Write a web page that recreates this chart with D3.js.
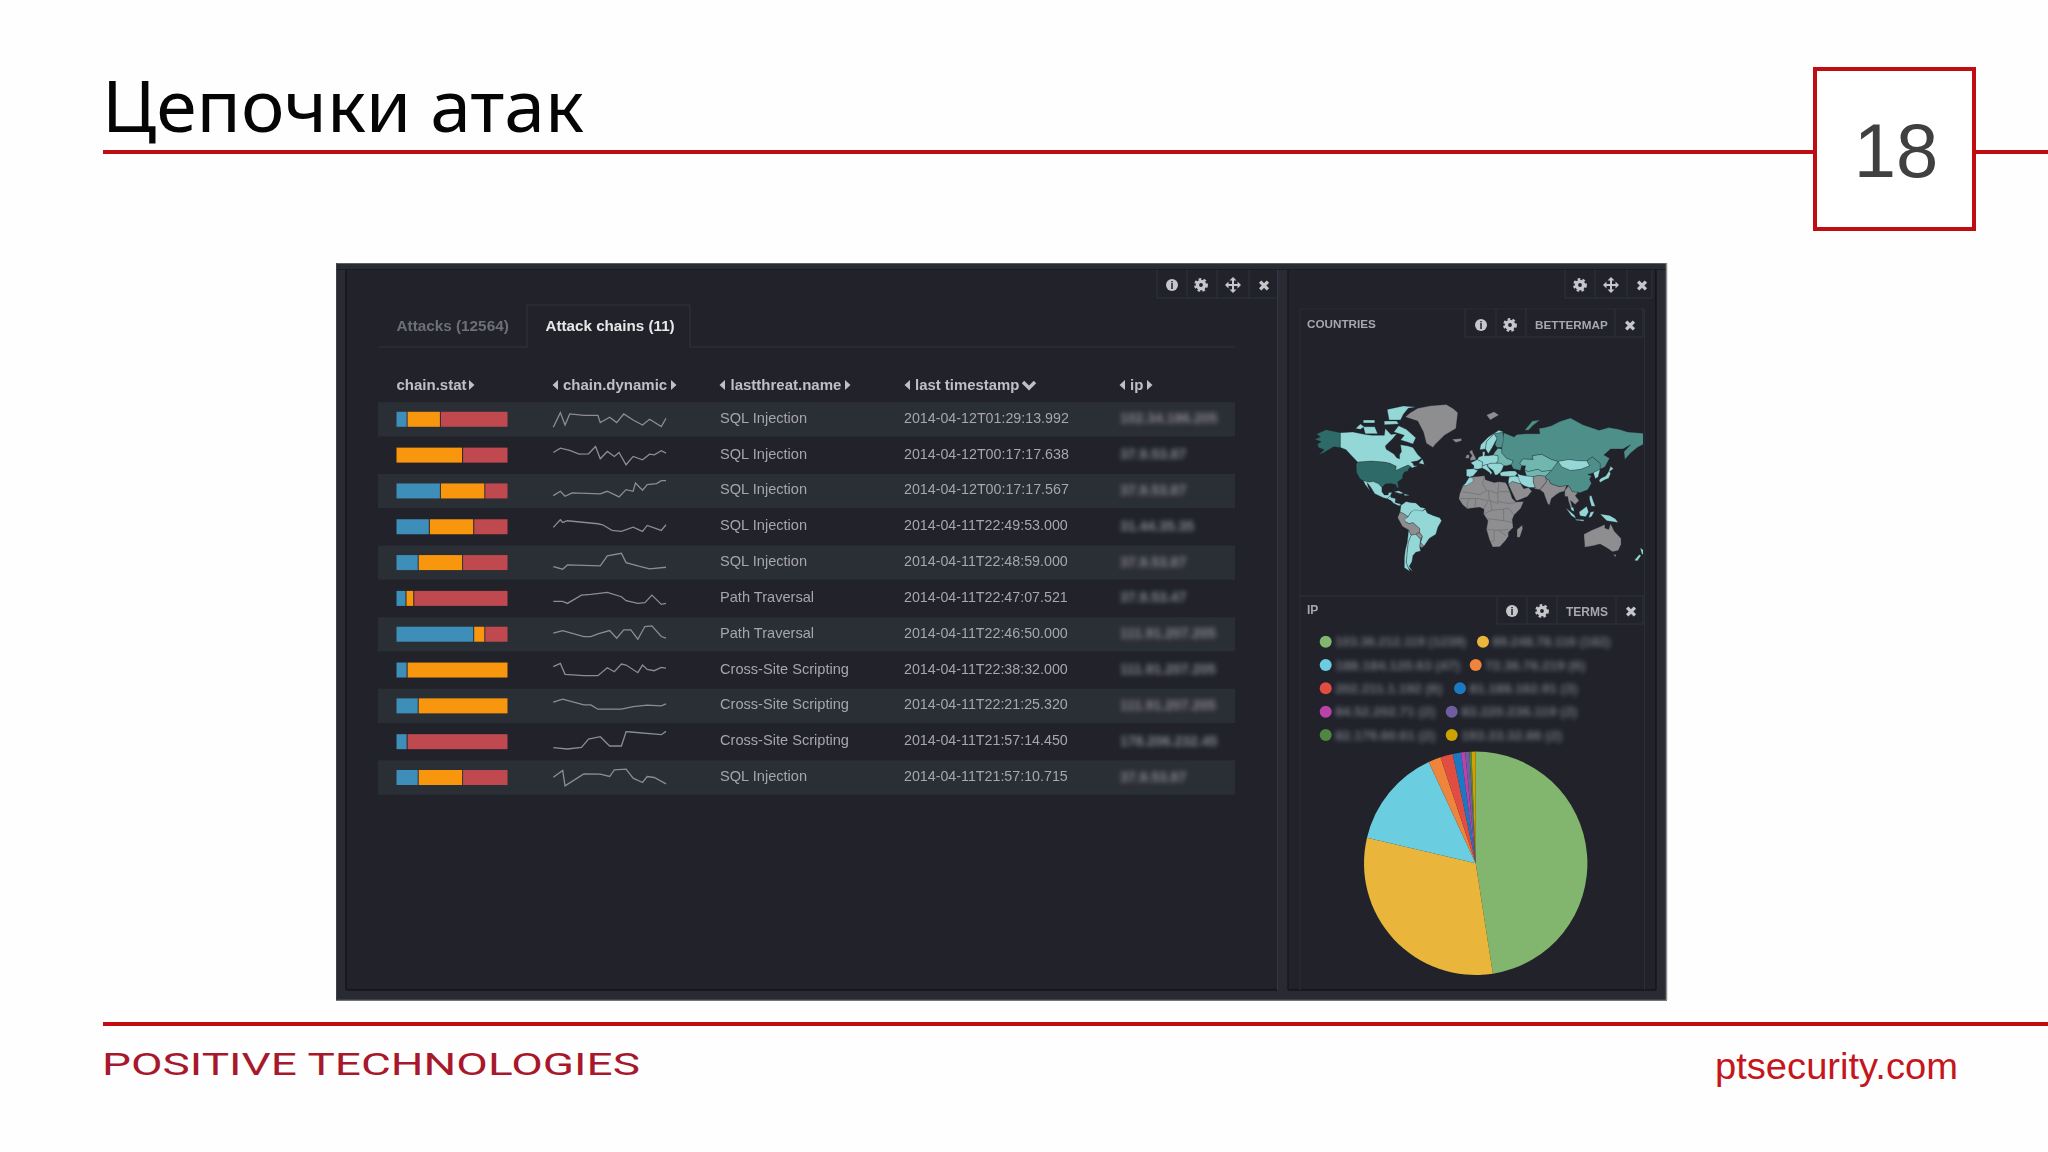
<!DOCTYPE html>
<html>
<head>
<meta charset="utf-8">
<script src="https://cdnjs.cloudflare.com/ajax/libs/d3/7.8.5/d3.min.js"></script>
<style>
  html, body { margin: 0; padding: 0; background: #fff; }
  svg { display: block; }
  text { font-family: "Liberation Sans", Arial, sans-serif; }
</style>
</head>
<body>
<svg id="chart" width="2048" height="1152"></svg>
<script>
// Table data
const statBlue = [10, 0, 40, 30, 20, 9, 70, 10, 20, 10, 20];
const statOrange = [30, 60, 40, 40, 40, 7, 10, 90, 80, 0, 40];
const statRed = [60, 40, 20, 30, 40, 84, 20, 0, 0, 90, 40];
const threats = ["SQL Injection", "SQL Injection", "SQL Injection", "SQL Injection", "SQL Injection", "Path Traversal", "Path Traversal", "Cross-Site Scripting", "Cross-Site Scripting", "Cross-Site Scripting", "SQL Injection"];
const stamps = ["2014-04-12T01:29:13.992", "2014-04-12T00:17:17.638", "2014-04-12T00:17:17.567", "2014-04-11T22:49:53.000", "2014-04-11T22:48:59.000", "2014-04-11T22:47:07.521", "2014-04-11T22:46:50.000", "2014-04-11T22:38:32.000", "2014-04-11T22:21:25.320", "2014-04-11T21:57:14.450", "2014-04-11T21:57:10.715"];
// the addresses are blurred in the picture, these are only look-alikes
const rowIps = ["102.34.186.205", "37.9.53.87", "37.9.53.87", "31.44.35.35", "37.9.53.87", "37.9.53.47", "111.91.207.205", "111.91.207.205", "111.91.207.205", "178.206.232.45", "37.9.53.87"];

// Sparklines, [bucket, value]
const dyn0 = [[0,6],[3,50],[5,13],[7,46],[13,42],[19,42],[20,20],[24,36],[27,20],[30,46],[34,28],[38,13],[41,30],[46,8],[48,33]];
const dyn1 = [[0,38],[3,51],[7,44],[11,33],[15,34],[18,56],[20,19],[23,41],[26,26],[28,38],[31,1],[34,26],[38,16],[41,33],[43,31],[46,43],[48,36]];
const dyn2 = [[0,16],[3,29],[5,14],[8,24],[20,21],[23,29],[28,12],[31,34],[34,29],[35,54],[38,32],[40,49],[44,52],[46,61],[48,61]];
const dyn3 = [[0,28],[3,51],[4,43],[6,48],[19,39],[21,36],[25,19],[29,16],[34,29],[38,16],[40,34],[46,19],[48,36]];
const dyn4 = [[0,18],[4,10],[6,23],[20,20],[23,50],[29,58],[31,30],[36,20],[41,11],[48,16]];
const dyn5 = [[0,21],[4,21],[6,15],[12,40],[16,42],[23,48],[29,35],[31,23],[36,15],[39,17],[42,40],[46,12],[48,15]];
const dyn6 = [[0,33],[4,41],[13,23],[16,23],[19,31],[24,41],[27,18],[30,43],[33,43],[36,15],[39,53],[42,55],[46,23],[48,18]];
const dyn7 = [[0,40],[3,50],[5,17],[13,13],[19,13],[23,37],[26,25],[29,48],[31,45],[36,22],[38,45],[40,32],[43,28],[46,38],[48,36]];
const dyn8 = [[0,41],[4,50],[13,33],[16,33],[19,20],[29,20],[34,28],[40,32],[46,30],[48,36]];
const dyn9 = [[0,12],[6,8],[12,13],[15,38],[20,45],[24,17],[29,17],[31,60],[33,59],[46,51],[48,61]];
const dyn10 = [[0,31],[4,51],[5,5],[13,41],[20,40],[24,33],[26,53],[31,55],[34,28],[38,15],[40,33],[43,30],[48,11]];
const dynamics = [dyn0, dyn1, dyn2, dyn3, dyn4, dyn5, dyn6, dyn7, dyn8, dyn9, dyn10];

// Pie data
const pieValues = [47.5, 31.1, 14.4, 1.8, 1.8, 1.2, 0.6, 0.6, 0.3, 0.6];
const pieColors = ["#82b56e", "#e9b53a", "#6bcde0", "#ef843c", "#e24d42", "#1f78c1", "#ba43a9", "#705da0", "#508642", "#cca300"];
const pieLabels = ["103.36.212.119 (1239)", "89.248.78.116 (182)", "188.184.120.63 (47)", "72.36.76.219 (6)", "202.211.1.192 (6)", "81.188.162.91 (3)", "84.52.202.71 (2)", "83.220.236.119 (2)", "82.179.60.61 (2)", "193.33.32.86 (2)"];

// Map polygons, lon/lat
const landGray = [
  [[-73,78],[-60,82],[-30,83.6],[-18,80],[-20,72],[-32,68],[-42,62],[-44,60],[-51,63],[-54,70],[-60,76]],
  [[-24,65.5],[-14,66],[-14,64.5],[-20,63.5]],
  [[12,79],[20,80.5],[25,79],[16,76.5]],
  [[-6,35.8],[10,37.3],[11,33.5],[20,31],[25,31.7],[32,31],[34,28],[37,21],[39,15],[43,11.5],[51,12],[48,5],[41,-2],[39,-7],[40,-15],[35,-20],[35,-24],[32,-28],[26,-34],[18.5,-34.3],[15,-27],[12,-17],[13.5,-8],[9,-1],[9.5,4],[5,6],[-4,5],[-8,4.5],[-13,8.5],[-17,14.7],[-16,20],[-13,27],[-10,30]],
  [[49.5,-12.5],[50,-16],[47,-25],[44,-25],[44,-17]],
  [[35,29],[39,32],[47,30],[48,29.5],[51,25],[56,26],[59.5,22.5],[55,17],[45,13],[43,13],[39,21]],
  [[61,36.5],[66,37.5],[74,37],[75,32],[70,26],[68,24],[62,25],[63,26],[61,31]],
  [[74,35],[78,33],[79,30],[88,27],[96,28],[94,23],[92,22],[89,21.5],[85,19],[80,15],[78,8],[76,10],[73,18],[72,21],[68,24],[70,26],[75,32]],
  [[94,23],[98,28],[102,22],[108,21.5],[105,18],[109,13],[105,9],[100,13],[103,2],[100,6],[98,12],[97,17],[94,17]],
  [[114,-22],[122,-18],[129,-15],[136,-12],[136,-15.5],[140,-17],[142,-11],[146,-19],[153,-26],[153,-32],[150,-37.5],[144,-38.5],[138,-35],[131,-31.5],[124,-33],[115,-34.5]],
  [[145,-41],[148,-41],[147,-43.5]],
  [[-78.5,1.3],[-74,-1],[-70,-4],[-73,-9],[-69,-11],[-65,-10],[-58,-16],[-58,-20],[-62,-22],[-67,-22.8],[-69.5,-17.5],[-76,-14],[-81,-5],[-80,-2]],
  [[-62,-22],[-58,-20],[-55,-24],[-57,-27],[-60,-24]],
  [[-58,-33.5],[-57,-30],[-53.5,-33.5],[-56,-35]],
  [[-5,50],[1.5,51],[0,53.5],[-2,56],[-3,58.5],[-6,57],[-3,54],[-5,52]],
  [[-10,52],[-6,52],[-6,55],[-9,54.5]]
];
const landDark = [
  [[-168,65.5],[-162,67],[-166,68.8],[-156,71.3],[-141,69.6],[-141,60],[-135,58.5],[-130,55],[-134,58],[-140,59.8],[-148,60.5],[-152,59],[-158,56.5],[-164,54.5],[-158,58.5],[-164,60],[-165,62.5],[-161,64]],
  [[-123,49],[-95,49],[-89,48],[-82.5,45.5],[-83,42],[-79,43.5],[-75,45],[-70,46.5],[-67,45.2],[-70,43],[-70,41.5],[-74,40.5],[-76,37],[-75.5,35.2],[-81,31.5],[-80,26],[-81.5,25.5],[-83,29],[-89,30],[-94,29.5],[-97.5,26],[-101,29.7],[-106.5,31.8],[-111,31.3],[-117,32.5],[-120.5,34.5],[-124,40],[-124.5,47]]
];
const landMid = [
  [[28,60],[30,69.5],[41,67],[44,68.5],[54,69],[68,69],[67,72],[73,72.5],[80,73.5],[100,77.5],[113,74],[130,71],[140,72.5],[160,70],[179.9,69],[179.9,65],[177,62.5],[170,60],[163,56],[157,51],[156,57],[163,62],[155,59],[142,59],[135,54.5],[141,52],[136,45],[131,43],[131,48],[123,53],[117,50],[108,50],[98,51],[87,49.5],[80,51],[70,55],[60,54],[61,51],[50,51.5],[47,48],[49,46],[47.5,42],[40,43.5],[38,47],[40,50],[33,52],[28,56]],
  [[74,37],[80,42],[87,49.5],[91,45],[100,42],[111,43],[120,46],[117,50],[123,53],[131,48],[131,43],[124,40],[121,39],[118,38.5],[122,37],[120,34],[122,30],[118,24],[110,21],[108,21.5],[102,22],[98,28],[96,28],[88,27],[79,30],[78,33],[74,35]],
  [[52,71],[56,71],[68,76.5],[60,76]],
  [[23,66],[21,62],[23,60],[28,60],[30,65],[29,70],[20,69]]
];
const landSoft = [
  [[47,48],[50,51.5],[61,51],[60,54],[70,55],[80,51],[87,49.5],[80,42],[70,41],[66,43],[56,41],[52,42],[53,46],[49,46]],
  [[52,42],[56,41],[66,43],[70,41],[80,42],[74,37],[66,37.5],[61,36.5],[54,37]],
  [[19,54.5],[21,57],[24,59.5],[28,59],[28,56],[33,52],[40,50],[38,47],[33,46],[30,46],[27,48],[22,48],[24,50],[24,54]]
];
const landLight = [
  [[-141,69.6],[-128,70],[-115,68.5],[-108,68],[-95,68],[-94,72],[-88,68.5],[-82,69],[-86,66],[-94,61],[-93,58.8],[-85,55.3],[-82,52.5],[-79,51.5],[-79,55],[-77,57],[-78,62],[-70,61],[-65,60],[-60,55],[-56,52],[-60,50],[-67,49],[-65,48],[-64,46],[-60,46],[-66,44],[-67,45.2],[-70,46.5],[-75,45],[-79,43.5],[-83,42],[-82.5,45.5],[-89,48],[-95,49],[-123,49],[-130,54.5],[-135,58.5],[-141,60]],
  [[-80,73.5],[-72,71.5],[-62,66.5],[-65,62.5],[-72,64],[-78,65],[-74,68],[-85,70]],
  [[-90,76.5],[-78,76.5],[-70,82],[-62,82.5],[-75,83],[-92,81.5]],
  [[-117,73],[-105,73],[-102,69],[-115,69]],
  [[-125,72],[-120,74.5],[-116,73],[-120,71.5]],
  [[-95,74],[-80,74.5],[-82,76],[-95,76]],
  [[-117,75],[-105,75],[-105,76.5],[-117,76.5]],
  [[-59,48],[-53,47],[-55,51.5]],
  [[-117,32.5],[-111,31.3],[-106.5,31.8],[-101,29.7],[-97.5,26],[-97.5,22],[-95,18.7],[-91,18.7],[-90.5,21],[-87,21.5],[-88.5,18],[-92,14.7],[-96,15.8],[-105,20],[-109,26],[-113,31],[-112,27],[-110,23],[-115,29]],
  [[-92,14.7],[-88.5,18],[-88,16],[-83.2,15],[-83.7,11],[-78,9.3],[-77.5,8],[-80,7.5],[-85,10],[-88,13]],
  [[-85,22],[-80,23],[-74.5,20.3],[-78,20]],
  [[-74,19.8],[-68.5,18.5],[-74,18]],
  [[-77.5,8],[-72,12],[-68,11],[-62,10.5],[-57,6],[-52,5],[-55,2],[-60,1],[-64,1.5],[-67,1],[-70,-4],[-74,-1],[-78.5,1.3]],
  [[-74,-7],[-70,-4],[-67,1],[-64,3],[-60,3],[-55,2],[-52,4],[-50,0],[-44,-2.5],[-37,-5],[-35,-8],[-39,-15],[-41,-22],[-48,-26],[-53.5,-33.5],[-57,-30],[-55,-24],[-58,-20],[-58,-16],[-65,-10],[-69,-11],[-73,-9]],
  [[-67,-22.8],[-62,-22],[-60,-24],[-57,-27],[-58,-33.5],[-57,-38],[-62,-39],[-65,-42],[-66,-47],[-69,-51],[-65,-55],[-70,-52],[-72,-48],[-71,-38],[-70,-30]],
  [[-69.5,-17.5],[-67,-22.8],[-70,-30],[-71,-38],[-72,-48],[-70,-52],[-68,-55],[-74,-52],[-74,-44],[-73,-37],[-71,-30]],
  [[-6,35.8],[-2,35],[-2,32],[-9,28],[-13,27.7],[-10,30]],
  [[35,33],[36,36.5],[42,37],[46,36],[48,30],[47,30],[39,32],[35,29]],
  [[44.5,39],[48,38],[54,37],[61,36.5],[61,31],[63,26],[57,26],[52,27.5],[48,30],[46,34]],
  [[26,40],[27,37],[36,36.5],[42,37],[44.5,39.5],[42,41.5],[36,41.5],[30,41]],
  [[87,49.5],[98,51],[108,50],[117,50],[120,46],[111,43],[100,42],[91,45]],
  [[124,40],[131,43],[129,36],[126,34.5]],
  [[130,33],[131,31],[136,33.5],[140,35],[142,39],[141,41],[145,43.5],[142,45.5],[140,41],[137,37],[132,35]],
  [[120,18],[122,18],[124,12],[126,7],[122,7],[120,14]],
  [[95,5.5],[104,-2],[106,-6],[101,-3]],
  [[109,1],[117,7],[119,1],[116,-4],[110,-3]],
  [[105,-6.5],[114,-7],[114,-8.5],[106,-7.5]],
  [[119,-5],[121,1],[125,1.5],[122,-4]],
  [[131,-1],[141,-2.5],[147,-6],[150,-10],[143,-9],[138,-8]],
  [[100,6],[103,6],[104,1.5],[101,3]],
  [[173,-35],[178,-38],[175,-41.5]],
  [[172,-41],[174,-42],[170,-46.5],[167,-46]],
  [[-4.5,48.5],[2.5,51],[8,49],[7.5,44],[3,43],[-1.5,43.5],[-1,46]],
  [[-9,43],[-1.5,43.5],[3,42],[0,39],[-2,37],[-5.5,36],[-9,37]],
  [[5,58.5],[11,59],[12,64],[20,69],[30,70],[25,71],[14,67],[6,62]],
  [[11,59],[14,55.5],[18,60],[23,66],[20,69],[12,64]],
  [[8,49],[2.5,51],[4,53],[8,54],[8,57],[10.5,57],[10,54],[14,54],[19,54.5],[24,54],[24,50],[22,48],[17,48],[13,47],[7.5,46]],
  [[7.5,44],[7.5,46],[13,47],[13,45.5],[18,40],[16,38],[15.5,40],[11,42.5]],
  [[13,47],[17,48],[22,48],[27,48],[30,46],[28,42],[26,40],[23,38],[21,38],[19,42],[14,45]]
];
// borders inside Africa
const africaBorders = [
  [[10,37],[8,30],[12,23],[15,23],[24,20],[25,31.7]],
  [[24,20],[24,10],[15,13],[14,23]],
  [[-13,22],[5,19],[12,23]],
  [[-17,15],[-5,15],[3,15],[14,13]],
  [[25,22],[37,22]],
  [[24,12],[35,10],[43,11]],
  [[9,4.5],[14,13]],
  [[0,6],[1,15]],
  [[-8,4.5],[-8,12],[-5,15]],
  [[9,-1],[18,3],[30,4],[35,5],[41,-2]],
  [[13,-6],[30,-8],[39,-10]],
  [[12,-17],[25,-18],[35,-17]],
  [[30,-8],[30,4]],
  [[20,-18],[20,-28],[17,-29]],
  [[25,-18],[32,-23]],
  [[18,3],[16,13]]
];

const svg = d3.select("#chart");
const defs = svg.append("defs");
defs.append("filter").attr("id", "soft").append("feGaussianBlur").attr("stdDeviation", 0.45);
defs.append("filter").attr("id", "blur").attr("x", "-10%").attr("width", "120%").attr("y", "-50%").attr("height", "200%")
  .append("feGaussianBlur").attr("stdDeviation", 2.4);
defs.append("clipPath").attr("id", "mapClip").append("rect")
  .attr("x", 1300).attr("y", 340).attr("width", 343).attr("height", 250);

const red = "#c00d14";
const panelBg = "#20222b";
const stripBg = "#2a2c35";
const iconColor = "#c6c7ca";

// Small drawing helpers
function rect(g, x, y, w, h, fill, stroke) {
  return g.append("rect").attr("x", x).attr("y", y).attr("width", w).attr("height", h)
    .attr("fill", fill || "none").attr("stroke", stroke || "none");
}
function line(g, x1, y1, x2, y2, color, width) {
  return g.append("line").attr("x1", x1).attr("y1", y1).attr("x2", x2).attr("y2", y2)
    .attr("stroke", color).attr("stroke-width", width || 1);
}
function label(g, x, y, str, size, color, weight) {
  return g.append("text").attr("x", x).attr("y", y).text(str)
    .attr("font-size", size).attr("fill", color).attr("font-weight", weight || "normal");
}
function triangle(g, x, y, dir, color) {
  g.append("path").attr("d", d3.line()([[x, y - 5], [x + dir * 5.5, y], [x, y + 5]]) + "Z").attr("fill", color);
}

// Slide frame
svg.append("rect").attr("width", 2048).attr("height", 1152).attr("fill", "#fefefe");
label(svg, 102, 132, "Цепочки атак", 72, "#050505").style("font-family", "'Noto Sans'")
  .attr("textLength", 482).attr("lengthAdjust", "spacingAndGlyphs");
line(svg, 103, 152, 1814, 152, red, 4);
line(svg, 1976, 152, 2048, 152, red, 4);
rect(svg, 1815, 69, 159, 160, "#fff", red).attr("stroke-width", 4);
label(svg, 1896, 177, "18", 76, "#404040").attr("text-anchor", "middle");
line(svg, 103, 1024, 2048, 1024, red, 4);
label(svg, 102, 1075, "POSITIVE TECHNOLOGIES", 31, "#a8182c").style("font-family", "Roboto")
  .attr("textLength", 538).attr("lengthAdjust", "spacingAndGlyphs");
label(svg, 1715, 1079, "ptsecurity.com", 37, "#c4161c").attr("textLength", 243).attr("lengthAdjust", "spacingAndGlyphs");

// Dashboard screenshot
const dash = svg.append("g").attr("filter", "url(#soft)");
rect(dash, 336, 263, 1331, 737, stripBg);
rect(dash, 346, 270, 931, 720, panelBg);
rect(dash, 1288, 270, 368, 720, panelBg);
line(dash, 336, 263.5, 1667, 263.5, "#5c5e63", 1);
line(dash, 336, 269.5, 1667, 269.5, "#191b21", 1);
line(dash, 336, 1000, 1667, 1000, "#43464a", 1.5);
line(dash, 336.5, 263, 336.5, 1000, "#3c3f44", 1);
line(dash, 1666.5, 263, 1666.5, 1000, "#8a8c90", 1.5);
line(dash, 346, 270, 346, 990, "#15171c", 1.5);
line(dash, 346, 990, 1277, 990, "#15171c", 1.5);
line(dash, 1288, 990, 1656, 990, "#15171c", 1.5);
line(dash, 1277.5, 270, 1277.5, 990, "#34373e");
line(dash, 1288, 270, 1288, 990, "#17191f", 1.5);
line(dash, 1656, 270, 1656, 990, "#15171c", 1.5);
line(dash, 1300, 309, 1644, 309, "#2c2f37");
line(dash, 1300, 309, 1300, 990, "#2c2f37");
line(dash, 1644.5, 309, 1644.5, 990, "#2c2f37");
line(dash, 1300, 596, 1644, 596, "#34373e");

// Panel buttons
function buttons(xs, y0, y1) {
  xs.forEach((x) => line(dash, x, y0, x, y1, "#2f323a"));
  line(dash, xs[0], y1, xs[xs.length - 1], y1, "#2f323a");
}
function icon(x, y, kind) {
  if (kind == "info") {
    dash.append("circle").attr("cx", x).attr("cy", y).attr("r", 6).attr("fill", iconColor);
    label(dash, x, y + 4, "i", 11, panelBg, "bold").attr("text-anchor", "middle");
  } else if (kind == "gear") {
    dash.append("circle").attr("cx", x).attr("cy", y).attr("r", 3.6)
      .attr("fill", "none").attr("stroke", iconColor).attr("stroke-width", 3.4);
    dash.append("circle").attr("cx", x).attr("cy", y).attr("r", 5.8)
      .attr("fill", "none").attr("stroke", iconColor).attr("stroke-width", 2.2).attr("stroke-dasharray", "2.6 2.25");
  } else if (kind == "move") {
    line(dash, x - 5, y, x + 5, y, iconColor, 2);
    line(dash, x, y - 5, x, y + 5, iconColor, 2);
    [[1, 0], [-1, 0], [0, 1], [0, -1]].forEach((d) => {
      const tip = [x + d[0] * 8, y + d[1] * 8];
      const a = [x + d[0] * 4.5 - d[1] * 3.5, y + d[1] * 4.5 - d[0] * 3.5];
      const b = [x + d[0] * 4.5 + d[1] * 3.5, y + d[1] * 4.5 + d[0] * 3.5];
      dash.append("path").attr("d", d3.line()([a, tip, b]) + "Z").attr("fill", iconColor);
    });
  } else {
    label(dash, x, y + 5.5, "\u2716", 15, iconColor)
      .attr("text-anchor", "middle").style("font-family", "'DejaVu Sans'");
  }
}
buttons([1157, 1187, 1217, 1249, 1278], 270, 298);
[["info", 1172], ["gear", 1201], ["move", 1233], ["close", 1264]].forEach((d) => icon(d[1], 285, d[0]));
buttons([1565, 1595, 1627, 1652], 270, 298);
[["gear", 1580], ["move", 1611], ["close", 1642]].forEach((d) => icon(d[1], 285, d[0]));
buttons([1465, 1496, 1526, 1615, 1643], 309, 337);
[["info", 1481], ["gear", 1510], ["close", 1630]].forEach((d) => icon(d[1], 325, d[0]));
buttons([1497, 1527, 1557, 1616, 1643], 597, 624);
[["info", 1512], ["gear", 1542], ["close", 1631]].forEach((d) => icon(d[1], 611, d[0]));
label(dash, 1307, 328, "COUNTRIES", 11.7, "#a6a8ac", "bold");
label(dash, 1535, 329, "BETTERMAP", 11.7, "#a6a8ac", "bold");
label(dash, 1307, 614, "IP", 12, "#a6a8ac", "bold");
label(dash, 1566, 616, "TERMS", 12, "#a6a8ac", "bold");

// Tabs
line(dash, 378, 347, 527, 347, "#33363d");
line(dash, 690, 347, 1235, 347, "#33363d");
dash.append("path").attr("d", "M527,347V305H690V347").attr("fill", "none").attr("stroke", "#33363d");
label(dash, 396.5, 331, "Attacks (12564)", 15.3, "#6d6f75", "bold");
label(dash, 545.5, 331, "Attack chains (11)", 15.2, "#e8e8e8", "bold");

// Header row
const headColor = "#bfc0c3";
label(dash, 396.5, 390, "chain.stat", 15, headColor, "bold");
triangle(dash, 469, 385, 1, headColor);
triangle(dash, 558, 385, -1, headColor);
label(dash, 563, 390, "chain.dynamic", 15, headColor, "bold");
triangle(dash, 671, 385, 1, headColor);
triangle(dash, 725, 385, -1, headColor);
label(dash, 730.5, 390, "lastthreat.name", 15, headColor, "bold");
triangle(dash, 845, 385, 1, headColor);
triangle(dash, 910, 385, -1, headColor);
label(dash, 915, 390, "last timestamp", 14.9, headColor, "bold");
dash.append("path").attr("d", "M1023,382l6,6l6,-6").attr("fill", "none").attr("stroke", headColor).attr("stroke-width", 3.4);
triangle(dash, 1125, 385, -1, headColor);
label(dash, 1130, 390, "ip", 15, headColor, "bold");
triangle(dash, 1147, 385, 1, headColor);

// Table rows
const yRow = d3.scaleLinear().domain([0, 10]).range([419.3, 777.5]);
const xStat = d3.scaleLinear().domain([0, 100]).range([396.5, 507.5]);
const xDyn = d3.scaleLinear().domain([0, 48]).range([553.3, 666]);
const yDyn = d3.scaleLinear().domain([0, 60]).range([10, -10]);
const sparkLine = d3.line().x((d) => xDyn(d[0])).y((d) => yDyn(d[1]));

const rows = dash.selectAll("g.row").data(threats).join("g").attr("class", "row")
  .attr("transform", (d, i) => `translate(0,${yRow(i)})`);
rows.filter((d, i) => i % 2 == 0).append("rect")
  .attr("x", 378).attr("y", -17.2).attr("width", 857).attr("height", 34.4).attr("fill", "#2b2d35");

const statColors = ["#3d8fba", "#f8960f", "#bf4a4f"];
rows.each(function (d, i) {
  const row = d3.select(this);
  let sum = 0;
  [statBlue[i], statOrange[i], statRed[i]].forEach((v, k) => {
    if (v > 0) {
      const end = sum + v;
      row.append("rect").attr("x", xStat(sum)).attr("y", -7.5)
        .attr("width", xStat(end) - xStat(sum) - (end < 100 ? 1 : 0)).attr("height", 15)
        .attr("fill", statColors[k]);
      sum = end;
    }
  });
  row.append("path").attr("d", sparkLine(dynamics[i]))
    .attr("fill", "none").attr("stroke", "#8c8d91").attr("stroke-width", 1.3);
  label(row, 720, 3.5, d, 14.6, "#a5a7ab");
  label(row, 904, 3.5, stamps[i], 14.25, "#a5a7ab");
  label(row, 1120, 4, rowIps[i], 14, "#85878d", "bold")
    .attr("filter", "url(#blur)");
});

// World map, Miller projection
const projection = d3.geoProjection((lambda, phi) => [lambda, 1.25 * Math.log(Math.tan(Math.PI / 4 + 0.4 * phi))])
  .scale(54.7).translate([1475, 513]).precision(0.5);
const mapPath = d3.geoPath(projection);
function ringFeature(ring) {
  const closed = ring.concat([ring[0]]);
  const feature = { type: "Polygon", coordinates: [closed] };
  if (d3.geoArea(feature) > 2 * Math.PI) feature.coordinates = [closed.slice().reverse()];
  return feature;
}
const mapGroup = dash.append("g").attr("clip-path", "url(#mapClip)");
const mapLayers = [[landGray, "#8e8e91"], [landDark, "#2f6b67"], [landMid, "#4f8f8a"], [landSoft, "#6fb7b0"], [landLight, "#93d8d6"]];
mapLayers.forEach((layer) => {
  mapGroup.selectAll(null).data(layer[0].map(ringFeature)).join("path")
    .attr("d", mapPath).attr("fill", layer[1]).attr("stroke", panelBg).attr("stroke-width", 0.3);
});
mapGroup.append("path").datum({ type: "MultiLineString", coordinates: africaBorders })
  .attr("d", mapPath).attr("fill", "none").attr("stroke", "#68686c").attr("stroke-width", 0.6);

// Pie legend
const dotX = [1325.7, 1483, 1325.7, 1475.7, 1325.7, 1460, 1325.7, 1451.7, 1325.7, 1451.7];
const legendWidth = [131, 118, 125, 100, 107, 108, 100, 116, 100, 101];
const yLegend = d3.scaleLinear().domain([0, 4]).range([641.7, 735]);
pieLabels.forEach((name, i) => {
  const y = yLegend(Math.floor(i / 2));
  dash.append("circle").attr("cx", dotX[i]).attr("cy", y).attr("r", 6).attr("fill", pieColors[i]);
  label(dash, dotX[i] + 9.5, y + 4.5, name, 13, "#74767c", "bold")
    .attr("textLength", legendWidth[i]).attr("lengthAdjust", "spacingAndGlyphs")
    .attr("filter", "url(#blur)");
});

// Pie
const pie = d3.pie().sort(null);
const arc = d3.arc().innerRadius(0).outerRadius(111.7);
dash.append("g").attr("transform", "translate(1475.7,863.3)")
  .selectAll("path").data(pie(pieValues)).join("path")
  .attr("d", arc).attr("fill", (d, i) => pieColors[i]);
</script>
</body>
</html>
